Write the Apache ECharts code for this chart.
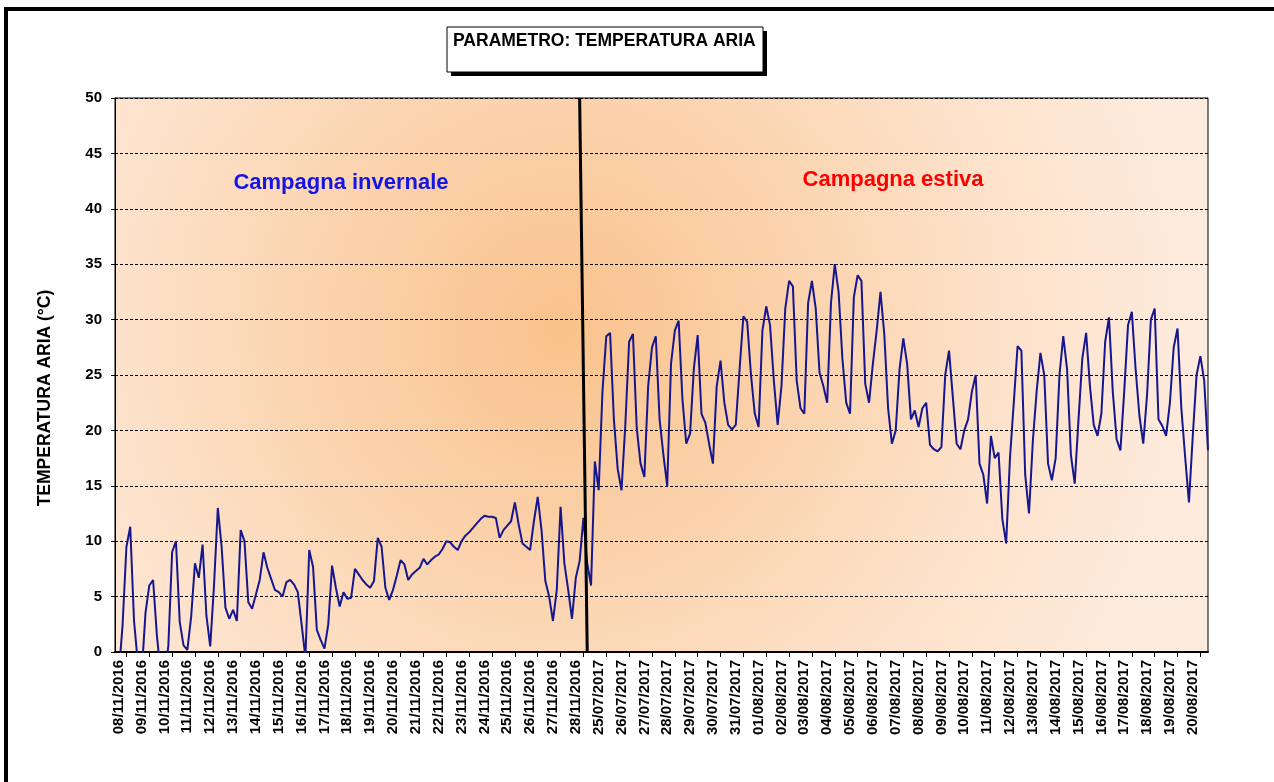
<!DOCTYPE html>
<html>
<head>
<meta charset="utf-8">
<script src="https://cdn.jsdelivr.net/npm/echarts@6/dist/echarts.min.js"></script>
<style>
  html, body { margin: 0; padding: 0; background: #fff; }
  #main { width: 1274px; height: 782px; }
</style>
</head>
<body>
<div id="main"></div>
<script>
// giorni delle due campagne (6 letture al giorno, ogni 4 ore)
var winterDays = ['08/11/2016', '09/11/2016', '10/11/2016', '11/11/2016', '12/11/2016', '13/11/2016', '14/11/2016',
  '15/11/2016', '16/11/2016', '17/11/2016', '18/11/2016', '19/11/2016', '20/11/2016', '21/11/2016',
  '22/11/2016', '23/11/2016', '24/11/2016', '25/11/2016', '26/11/2016', '27/11/2016', '28/11/2016'];
var summerDays = ['25/07/2017', '26/07/2017', '27/07/2017', '28/07/2017', '29/07/2017', '30/07/2017', '31/07/2017',
  '01/08/2017', '02/08/2017', '03/08/2017', '04/08/2017', '05/08/2017', '06/08/2017', '07/08/2017',
  '08/08/2017', '09/08/2017', '10/08/2017', '11/08/2017', '12/08/2017', '13/08/2017', '14/08/2017',
  '15/08/2017', '16/08/2017', '17/08/2017', '18/08/2017', '19/08/2017', '20/08/2017'];

var winterTemps = [
  -4, -2, 2.5, 9.5, 11.3, 2.8,
  -1, -2, 3.5, 6.0, 6.5, 1.5,
  -2, -2, 0.5, 9.0, 10.0, 2.7,
  0.6, 0.2, 3.2, 8.0, 6.7, 9.7,
  3.3, 0.5, 6.0, 13.0, 9.5, 4.0,
  3.0, 3.8, 2.8, 11.0, 10.0, 4.5,
  3.9, 5.2, 6.5, 9.0, 7.6, 6.6,
  5.6, 5.4, 5.0, 6.3, 6.5, 6.1,
  5.4, 2.5, -0.5, 9.2, 7.7, 2.0,
  1.1, 0.3, 2.5, 7.8, 5.8, 4.1,
  5.4, 4.8, 4.9, 7.5, 7.0, 6.5,
  6.1, 5.8, 6.4, 10.3, 9.5, 5.8,
  4.7, 5.6, 6.9, 8.3, 7.9, 6.5,
  7.0, 7.3, 7.6, 8.4, 7.9, 8.3,
  8.6, 8.8, 9.3, 10.0, 9.9, 9.5,
  9.2, 10.0, 10.5, 10.8, 11.2, 11.6,
  12.0, 12.3, 12.2, 12.2, 12.1, 10.3,
  11.0, 11.4, 11.8, 13.5, 11.5, 9.8,
  9.5, 9.2, 11.8, 14.0, 11.0, 6.4,
  5.0, 2.8, 5.6, 13.1, 8.0, 5.6,
  3.0, 6.7, 8.2, 12.1, 8.0, 6.0
];
var summerTemps = [
  17.2, 14.6, 23.5, 28.5, 28.8, 21.0,
  16.5, 14.6, 20.5, 28.0, 28.7, 20.2,
  17.0, 15.8, 24.0, 27.5, 28.5, 21.0,
  17.8, 15.0, 26.0, 29.0, 29.9, 22.8,
  18.8, 19.7, 25.6, 28.6, 21.5, 20.7,
  18.8, 17.0, 24.0, 26.3, 22.5, 20.5,
  20.1, 20.5, 25.5, 30.3, 29.8, 25.0,
  21.5, 20.3, 29.0, 31.2, 29.5, 24.5,
  20.5, 24.0, 31.0, 33.5, 33.0, 24.5,
  22.0, 21.5, 31.5, 33.5, 31.0, 25.2,
  24.0, 22.5, 31.5, 35.0, 32.5, 26.5,
  22.5, 21.5, 32.0, 34.0, 33.5, 24.2,
  22.5, 26.0, 29.0, 32.5, 28.7, 22.0,
  18.8, 20.0, 25.5, 28.3, 26.0, 21.0,
  21.8, 20.3, 22.0, 22.5, 18.7, 18.3,
  18.1, 18.5, 25.0, 27.2, 23.0, 18.8,
  18.3, 20.0, 21.0, 23.5, 25.0, 17.0,
  16.0, 13.4, 19.5, 17.5, 18.0, 12.0,
  9.8, 17.5, 22.5, 27.6, 27.2, 16.0,
  12.5, 19.0, 23.5, 27.0, 25.0, 17.0,
  15.5, 17.5, 25.0, 28.5, 25.5, 17.8,
  15.2, 21.0, 26.5, 28.8, 24.0, 20.5,
  19.5, 21.5, 28.0, 30.2, 23.5, 19.2,
  18.2, 23.5, 29.5, 30.7, 25.5, 21.3,
  18.8, 23.2, 30.0, 31.0, 21.0, 20.4,
  19.5, 22.5, 27.5, 29.2, 22.0, 17.6,
  13.5, 19.5, 25.0, 26.7, 24.5, 18.2
];

var PER_DAY = 6;
var allDays = winterDays.concat(summerDays);
var slots = [];
allDays.forEach(function (d) {
  for (var h = 0; h < PER_DAY; h++) slots.push(d + '|' + h);
});
var temps = winterTemps.concat(summerTemps);
var sepIdx = winterDays.length * PER_DAY - 3; // linea di separazione

var font = 'Arial, "Liberation Sans", sans-serif';
var chart = echarts.init(document.getElementById('main'));

chart.setOption({
  animation: false,
  backgroundColor: '#ffffff',
  grid: {
    left: 115, top: 98, right: 66, bottom: 130,
    show: true,
    borderColor: '#000', borderWidth: 1,
    backgroundColor: new echarts.graphic.RadialGradient(560, 330, 640, [
      { offset: 0, color: '#f9c28c' },
      { offset: 0.35, color: '#fbd2ab' },
      { offset: 0.7, color: '#fde2cb' },
      { offset: 1, color: '#fdebdd' }
    ], true)
  },
  xAxis: {
    type: 'category',
    data: slots,
    boundaryGap: false,
    axisLine: { lineStyle: { color: '#000', width: 2 } },
    axisTick: {
      length: 5,
      lineStyle: { color: '#000' },
      interval: function (i) { return i % PER_DAY === 3; }
    },
    axisLabel: {
      rotate: 90,
      margin: 8,
      interval: function (i) { return i % PER_DAY === 1; },
      formatter: function (v) { return v.split('|')[0]; },
      color: '#000', fontFamily: font, fontWeight: 'bold', fontSize: 15
    },
    splitLine: { show: false }
  },
  yAxis: {
    type: 'value',
    min: 0, max: 50, interval: 5,
    axisLine: { show: true, lineStyle: { color: '#000', width: 1 } },
    axisTick: { show: true, length: 4, lineStyle: { color: '#000' } },
    axisLabel: { margin: 13, color: '#000', fontFamily: font, fontWeight: 'bold', fontSize: 15 },
    splitLine: { lineStyle: { color: '#000', width: 1, type: [3, 2] } }
  },
  series: [{
    type: 'line',
    data: temps,
    symbol: 'none',
    clip: true,
    lineStyle: { color: '#16168f', width: 2 },
    markLine: {
      silent: true,
      symbol: 'none',
      label: { show: false },
      lineStyle: { color: '#000', width: 3, type: 'solid' },
      data: [[{ coord: [sepIdx - 0.7, 50] }, { coord: [sepIdx + 0.6, 0] }]]
    }
  }],
  graphic: [
    { type: 'rect', silent: true, z: 100,
      shape: { x: 6, y: 9, width: 1300, height: 900 },
      style: { fill: 'none', stroke: '#000', lineWidth: 4 } },
    { type: 'rect', silent: true, z: 100,
      shape: { x: 451, y: 31, width: 316, height: 45 },
      style: { fill: '#000' } },
    { type: 'rect', silent: true, z: 101,
      shape: { x: 447, y: 27, width: 316, height: 45 },
      style: { fill: '#fff', stroke: '#000', lineWidth: 1 } },
    { type: 'text', silent: true, z: 102, x: 453, y: 41,
      style: { text: 'PARAMETRO: TEMPERATURA ARIA', fill: '#000', font: 'bold 17.5px ' + font,
        textAlign: 'left', textVerticalAlign: 'middle' } },
    { type: 'text', silent: true, z: 50, x: 341, y: 183,
      style: { text: 'Campagna invernale', fill: '#1414e6', font: 'bold 22px ' + font,
        textAlign: 'center', textVerticalAlign: 'middle' } },
    { type: 'text', silent: true, z: 50, x: 893, y: 180,
      style: { text: 'Campagna estiva', fill: '#ff0000', font: 'bold 22px ' + font,
        textAlign: 'center', textVerticalAlign: 'middle' } },
    { type: 'text', silent: true, z: 50, x: 45, y: 398, rotation: Math.PI / 2,
      style: { text: 'TEMPERATURA ARIA (°C)', fill: '#000', font: 'bold 17.5px ' + font,
        textAlign: 'center', textVerticalAlign: 'middle' } }
  ]
});
</script>
</body>
</html>
